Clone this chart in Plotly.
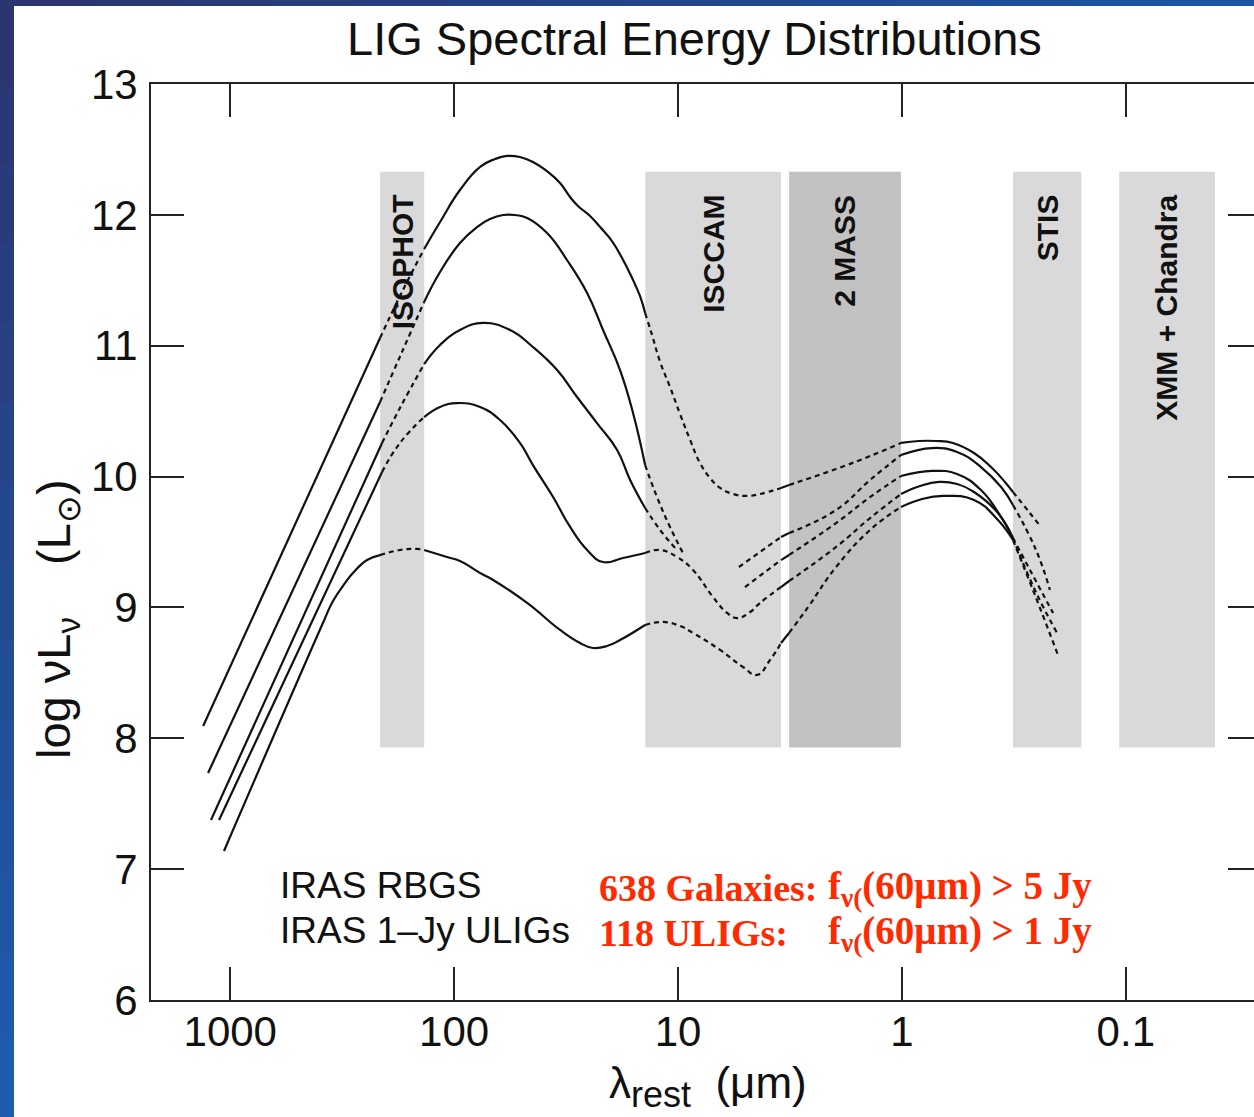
import math
import plotly.graph_objects as go

# ---------------- data ----------------
x_tick_values = [1000, 100, 10, 1, 0.1]
x_tick_labels = ["1000", "100", "10", "1", "0.1"]
y_tick_values = [6, 7, 8, 9, 10, 11, 12, 13]

band_names = ["ISOPHOT", "ISCCAM", "2 MASS", "STIS", "XMM + Chandra"]
band_long_um = [214, 14.0, 3.19, 0.319, 0.107]
band_short_um = [136, 3.47, 1.01, 0.158, 0.040]
band_bottom = 7.93
band_top = 12.33
band_label_top = 12.17

# SEDs: log10(lambda_rest / um) and log(nu L_nu / L_sun)
sed1_logwave = [3.121, 2.331, 2.233, 2.134, 2.063, 1.974, 1.884, 1.817, 1.764, 1.706, 1.648, 1.581, 1.527,
                1.482, 1.447, 1.393, 1.348, 1.295, 1.250, 1.205, 1.170, 1.147, 1.116, 1.080, 1.036, 0.991,
                0.946, 0.902, 0.857, 0.812, 0.754, 0.692, 0.634, 0.540, 0.504, 0.294, 0.142, 0.004, -0.076,
                -0.152, -0.228, -0.322, -0.398, -0.460, -0.496, -0.568, -0.621]
sed1_lum = [8.094, 11.059, 11.411, 11.739, 11.945, 12.190, 12.366, 12.427, 12.450, 12.442, 12.404, 12.328, 12.243,
            12.136, 12.068, 11.991, 11.907, 11.800, 11.670, 11.517, 11.380, 11.250, 11.082, 10.876, 10.685, 10.478,
            10.280, 10.104, 9.989, 9.913, 9.867, 9.852, 9.867, 9.913, 9.936, 10.058, 10.157, 10.257, 10.272,
            10.272, 10.257, 10.180, 10.073, 9.959, 9.882, 9.729, 9.615]

sed2_far_logwave = [3.099, 2.331, 2.233, 2.134, 2.063, 1.974, 1.898, 1.840, 1.782, 1.728, 1.674, 1.585, 1.496,
                    1.406, 1.335, 1.259, 1.201, 1.147, 1.094, 1.036, 0.978]
sed2_far_lum = [7.735, 10.570, 10.952, 11.334, 11.563, 11.785, 11.907, 11.968, 11.999, 11.999, 11.976, 11.861, 11.655,
                11.403, 11.120, 10.814, 10.486, 10.088, 9.844, 9.615, 9.416]
sed2_near_logwave = [0.728, 0.540, 0.504, 0.294, 0.142, 0.004, -0.134, -0.246, -0.353, -0.443, -0.496, -0.599, -0.661]
sed2_near_lum = [9.309, 9.538, 9.569, 9.745, 9.974, 10.165, 10.218, 10.188, 10.073, 9.920, 9.783, 9.439, 9.133]

sed3_far_logwave = [3.086, 2.322, 2.242, 2.134, 2.063, 1.974, 1.871, 1.750, 1.648, 1.540, 1.451, 1.362, 1.272,
                    1.214, 1.147, 1.080, 1.009]
sed3_far_lum = [7.376, 10.257, 10.524, 10.860, 11.006, 11.120, 11.174, 11.120, 10.990, 10.814, 10.608, 10.409, 10.203,
                9.974, 9.760, 9.592, 9.447]
sed3_near_logwave = [0.701, 0.540, 0.504, 0.294, 0.142, 0.004, -0.134, -0.246, -0.353, -0.443, -0.496, -0.572, -0.675]
sed3_near_lum = [9.156, 9.362, 9.401, 9.645, 9.844, 10.004, 10.043, 10.020, 9.897, 9.691, 9.531, 9.286, 8.958]

sed4_logwave = [3.050, 2.322, 2.242, 2.134, 2.063, 1.987, 1.884, 1.795, 1.706, 1.648, 1.558, 1.482, 1.406,
                1.335, 1.246, 1.147, 1.080, 1.004, 0.933, 0.844, 0.781, 0.737, 0.678, 0.634, 0.540, 0.504,
                0.294, 0.142, 0.004, -0.081, -0.166, -0.246, -0.322, -0.429, -0.496, -0.594, -0.693]
sed4_lum = [7.376, 10.035, 10.257, 10.455, 10.532, 10.562, 10.532, 10.432, 10.257, 10.088, 9.844, 9.615, 9.439,
            9.347, 9.378, 9.416, 9.439, 9.385, 9.286, 9.080, 8.958, 8.919, 8.965, 9.034, 9.156, 9.202,
            9.462, 9.683, 9.867, 9.928, 9.959, 9.943, 9.882, 9.722, 9.531, 9.133, 8.805]

sed5_logwave = [3.028, 2.586, 2.541, 2.487, 2.452, 2.389, 2.331, 2.242, 2.166, 2.134, 2.032, 1.974, 1.884, 1.826,
                1.674, 1.527, 1.438, 1.380, 1.317, 1.259, 1.147, 1.067, 0.991, 0.933, 0.812, 0.710, 0.647,
                0.589, 0.540, 0.504, 0.419, 0.294, 0.142, 0.004, -0.090, -0.184, -0.322, -0.429, -0.496,
                -0.594, -0.697]
sed5_lum = [7.139, 8.881, 9.049, 9.187, 9.263, 9.362, 9.400, 9.439, 9.447, 9.439, 9.385, 9.355, 9.263, 9.210,
            9.034, 8.828, 8.728, 8.690, 8.705, 8.751, 8.866, 8.889, 8.858, 8.805, 8.675, 8.545, 8.484,
            8.598, 8.728, 8.805, 9.003, 9.309, 9.592, 9.768, 9.829, 9.852, 9.821, 9.668, 9.515,
            9.095, 8.637]

sample_names = ["IRAS RBGS", "IRAS 1\u2013Jy ULIGs"]
sample_counts = ["638 Galaxies:", "118 ULIGs:"]
sample_limits = ["f<sub>\u03bd(</sub>(60\u03bcm) &gt; 5 Jy", "f<sub>\u03bd(</sub>(60\u03bcm) &gt; 1 Jy"]

# ---------------- layout helpers ----------------
W, H = 1254, 1117
LEFT, TOP, BOTTOM = 151, 84, 117
PLOT_W = W - LEFT
PLOT_H = H - TOP - BOTTOM
SANS = "Liberation Sans, Arial, Helvetica, sans-serif"
SERIF = "Liberation Serif, Times New Roman, serif"
INK = "#111111"
RED = "#ff2a00"


def px_x(px):
    return (px - LEFT) / PLOT_W


def px_y(py):
    return (H - BOTTOM - py) / PLOT_H


fig = go.Figure()

# instrument bands
band_fill = ["#d9d9d9", "#d9d9d9", "#c2c2c2", "#d9d9d9", "#d9d9d9"]
for name, lo, hi, col in zip(band_names, band_short_um, band_long_um, band_fill):
    fig.add_trace(go.Scatter(
        x=[hi, lo, lo, hi, hi],
        y=[band_bottom, band_bottom, band_top, band_top, band_bottom],
        mode="lines", fill="toself", fillcolor=col, line=dict(width=0),
        hoverinfo="skip", showlegend=False))
    fig.add_annotation(
        x=(math.log10(lo) + math.log10(hi)) / 2, y=band_label_top, xref="x", yref="y",
        text=f"<b>{name}</b>", textangle=-90, xanchor="center", yanchor="top",
        showarrow=False, font=dict(family=SANS, size=30, color=INK))

band_logs = [(math.log10(lo), math.log10(hi)) for lo, hi in zip(band_short_um, band_long_um)]


def in_band(v):
    return any(lo < v < hi for lo, hi in band_logs)


def add_sed(logw, lum):
    groups = []
    for i in range(len(logw) - 1):
        dotted = in_band((logw[i] + logw[i + 1]) / 2)
        if groups and groups[-1][0] == dotted:
            groups[-1][1].append(i + 1)
        else:
            groups.append([dotted, [i, i + 1]])
    for dotted, idx in groups:
        fig.add_trace(go.Scatter(
            x=[10 ** logw[k] for k in idx], y=[lum[k] for k in idx], mode="lines",
            line=dict(color=INK, width=2.2, dash="5px,4px" if dotted else "solid",
                      shape="spline", smoothing=1.3),
            hoverinfo="skip", showlegend=False))


for lw, lm in [(sed1_logwave, sed1_lum), (sed2_far_logwave, sed2_far_lum), (sed2_near_logwave, sed2_near_lum),
               (sed3_far_logwave, sed3_far_lum), (sed3_near_logwave, sed3_near_lum),
               (sed4_logwave, sed4_lum), (sed5_logwave, sed5_lum)]:
    add_sed(lw, lm)

# invisible trace that carries the right-hand tick axis
fig.add_trace(go.Scatter(x=[x_tick_values[0]], y=[y_tick_values[0]], yaxis="y2", mode="lines",
                         opacity=0, hoverinfo="skip", showlegend=False))

# ---------------- slide background ----------------
shapes = []


def mix(c1, c2, t):
    a = [int(c1[i:i + 2], 16) for i in (1, 3, 5)]
    b = [int(c2[i:i + 2], 16) for i in (1, 3, 5)]
    return "#%02x%02x%02x" % tuple(round(a[k] + (b[k] - a[k]) * t) for k in range(3))


N = 14
for i in range(N):
    y0 = 6 + (H - 6) * i / N
    y1 = 6 + (H - 6) * (i + 1) / N + 1
    shapes.append(dict(type="rect", xref="paper", yref="paper", x0=px_x(-2), x1=px_x(14),
                       y0=px_y(y1), y1=px_y(y0), fillcolor=mix("#2b3570", "#1e5cae", i / (N - 1)),
                       line=dict(width=0), layer="below"))
for i in range(N):
    x0 = W * i / N
    x1 = W * (i + 1) / N + 1
    shapes.append(dict(type="rect", xref="paper", yref="paper", x0=px_x(x0), x1=px_x(x1),
                       y0=px_y(6), y1=px_y(-2), fillcolor=mix("#2b3570", "#1a55a3", i / (N - 1)),
                       line=dict(width=0), layer="below"))
shapes.append(dict(type="rect", xref="paper", yref="paper", x0=px_x(14), x1=px_x(W + 10),
                   y0=px_y(H + 10), y1=px_y(6), fillcolor="white", line=dict(width=0), layer="below"))

# ---------------- texts ----------------
fig.add_annotation(x=px_x(694), y=px_y(38), xref="paper", yref="paper", text="LIG Spectral Energy Distributions",
                   showarrow=False, xanchor="center", yanchor="middle",
                   font=dict(family=SANS, size=47, color=INK))
fig.add_annotation(x=px_x(57), y=px_y(619), xref="paper", yref="paper",
                   text="log \u03bdL<sub>\u03bd</sub>    (L<sub>\u2299</sub>)", textangle=-90,
                   showarrow=False, xanchor="center", yanchor="middle",
                   font=dict(family=SANS, size=47, color=INK))
fig.add_annotation(x=px_x(708), y=px_y(1086), xref="paper", yref="paper",
                   text="\u03bb<sub><span style='font-size:36px'>rest</span></sub>  (\u03bcm)",
                   showarrow=False, xanchor="center", yanchor="middle",
                   font=dict(family=SANS, size=44, color=INK))
for k, (nm, cnt, lim) in enumerate(zip(sample_names, sample_counts, sample_limits)):
    yc = 885 + 45 * k
    fig.add_annotation(x=px_x(278), y=px_y(yc), xref="paper", yref="paper", text=nm,
                       showarrow=False, xanchor="left", yanchor="middle",
                       font=dict(family=SANS, size=37, color=INK))
    fig.add_annotation(x=px_x(597), y=px_y(yc + 3), xref="paper", yref="paper", text=f"<b>{cnt}</b>",
                       showarrow=False, xanchor="left", yanchor="middle",
                       font=dict(family=SERIF, size=38, color=RED))
    fig.add_annotation(x=px_x(826), y=px_y(yc + 3), xref="paper", yref="paper", text=f"<b>{lim}</b>",
                       showarrow=False, xanchor="left", yanchor="middle",
                       font=dict(family=SERIF, size=39, color=RED))

axis_common = dict(showgrid=False, zeroline=False, ticks="inside", ticklen=33, tickwidth=2,
                   tickcolor="#222222", linecolor="#222222", linewidth=2,
                   tickfont=dict(family=SANS, size=42, color=INK))

fig.update_layout(
    width=W, height=H,
    margin=dict(l=LEFT, r=0, t=TOP, b=BOTTOM, pad=0),
    paper_bgcolor="#2b3570", plot_bgcolor="white",
    showlegend=False, shapes=shapes,
    xaxis=dict(type="log", range=[3.354, -1.5726], tickvals=x_tick_values, ticktext=x_tick_labels,
               showline=True, mirror="ticks", ticklabelstandoff=-6, **axis_common),
    yaxis=dict(range=[6, 13], tickvals=y_tick_values, showline=True, mirror=False,
               ticklabelstandoff=3, **axis_common),
    yaxis2=dict(range=[6, 13], overlaying="y", side="right", tickvals=y_tick_values,
                showticklabels=False, showline=False, showgrid=False, zeroline=False,
                ticks="inside", ticklen=26, tickwidth=2, tickcolor="#222222"),
)

fig.write_html("out.html", config={"displayModeBar": False},
               post_script="document.body.style.margin='0';document.body.style.overflow='hidden';")
